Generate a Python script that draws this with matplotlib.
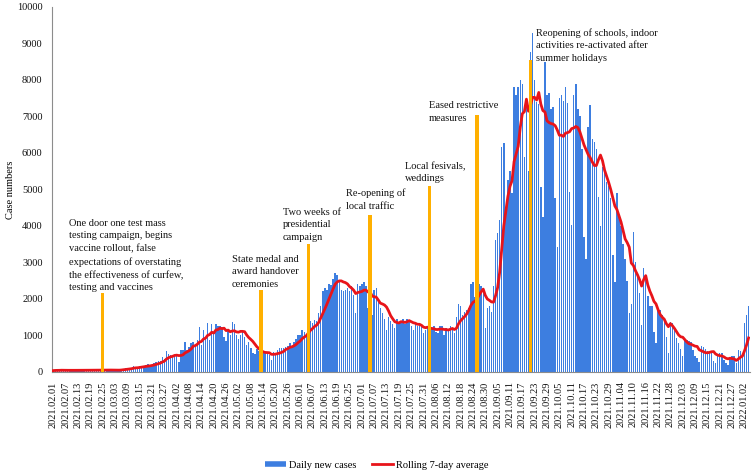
import numpy as np
import pandas as pd
import matplotlib
matplotlib.use('Agg')
import matplotlib.pyplot as plt
from matplotlib.lines import Line2D

plt.rcParams['font.family'] = ['Liberation Serif', 'DejaVu Serif']
plt.rcParams['font.size'] = 7.5

# daily new cases
feb = [30, 40, 35, 45, 50, 30, 25, 40, 45, 50, 40, 35, 30, 25, 45, 50, 55, 40, 45, 30, 25,
       50, 55, 60, 45, 50, 35, 30]
mar = [40, 45, 50, 40, 55, 60, 80, 90, 100, 75, 110, 160, 120, 100, 150, 140, 160, 190, 200, 180, 170,
       240, 270, 300, 290, 410, 350, 575, 480, 450, 400]
apr = [460, 460, 270, 595, 595, 820, 600, 690, 780, 820, 690, 870, 1220, 740, 1150, 960, 1330, 870,
       1310, 1060, 1310, 1240, 1250, 1220, 960, 850, 1150, 1000, 1370, 1310]
may = [1000, 910, 1000, 1150, 940, 740, 820, 640, 520, 490, 620, 560, 480, 500, 530, 500, 450, 320,
       550, 520, 590, 640, 640, 640, 690, 700, 780, 690, 820, 900, 1000]
jun = [1000, 1140, 1100, 950, 1350, 1400, 1330, 1420, 1380, 1620, 1800, 2200, 2300, 2250, 2400, 2380,
       2550, 2700, 2650, 2500, 2250, 2200, 2250, 2300, 2200, 2350, 2100, 1600, 2400, 2350]
jul = [2400, 2450, 2350, 1750, 1650, 1550, 2250, 2300, 1900, 1750, 1600, 1450, 1150, 1500, 1400, 1300,
       1200, 1450, 1350, 1400, 1450, 1300, 1450, 1400, 1250, 1150, 1300, 1250, 1300, 1250, 1050]
aug = [1150, 1250, 1100, 1200, 1250, 1100, 1050, 1250, 1250, 1000, 1200, 1150, 1250, 1200, 1050, 1500,
       1850, 1800, 1550, 1650, 1700, 1750, 2400, 2450, 2050, 1950, 2400, 2350, 2250, 1200, 1750]
sep = [1800, 1650, 2350, 3600, 3800, 4150, 6150, 6280, 4430, 5250, 5500, 4900, 7810, 7600, 7800, 8000,
       7900, 5900, 7300, 5500, 8770, 9280, 8000, 7400, 7350, 5070, 4250, 8500, 7600, 7650]
oct_ = [7200, 7250, 4760, 3430, 7500, 7600, 7420, 7820, 7360, 4940, 4030, 7600, 7900, 7200, 7000, 6100,
        3700, 3100, 6700, 7300, 6380, 6300, 6100, 4800, 4000, 5600, 5500, 5200, 5100, 4750, 3200]
# november has 11.30 twice in the source
nov = [2470, 4900, 4300, 4000, 3500, 3100, 2500, 1600, 1850, 3840, 3000, 2700, 2170, 1280, 2830, 2620,
       2070, 1800, 1800, 1100, 785, 1740, 1700, 1550, 1400, 960, 510, 1370, 1330, 1170, 930]
dec = [780, 610, 430, 900, 880, 850, 820, 600, 420, 380, 260, 700, 680, 620, 570, 500, 500, 290, 230,
       480, 500, 520, 330, 230, 180, 350, 420, 420, 230, 600, 560]
jan = [420, 1330, 1550, 1790]

daily = feb + mar + apr + may + jun + jul + aug + sep + oct_ + nov + dec + jan

dates = pd.date_range('2021-02-01', '2022-01-04').strftime('%Y.%m.%d').tolist()
dates.insert(dates.index('2021.11.30') + 1, '2021.11.30')

event_dates = ['2021.02.25', '2021.05.13', '2021.06.05', '2021.07.05', '2021.08.03', '2021.08.26', '2021.09.21']
event_heights = [2150, 2230, 3500, 4300, 5100, 7050, 8540]
event_texts = [
    'One door one test mass\ntesting campaign, begins\nvaccine rollout, false\nexpectations of overstating\nthe effectiveness of curfew,\ntesting and vaccines',
    'State medal and\naward handover\nceremonies',
    'Two weeks of\npresidential\ncampaign',
    'Re-opening of\nlocal traffic',
    'Local fesivals,\nweddings',
    'Eased restrictive\nmeasures',
    'Reopening of schools, indoor\nactivities re-activated after\nsummer holidays',
]
# lower-left corner of each note (category index, case number)
text_anchor = [(7.8, 2175), (86.9, 2270), (111.7, 3565), (142.4, 4414), (171.2, 5162), (182.4, 6833), (234.7, 8478)]

avg = pd.Series(daily).rolling(7, min_periods=1).mean()

blue = '#3d7ee0'
red = '#e8141a'
orange = '#ffb000'

fig = plt.figure(figsize=(7.54, 4.73), dpi=100)
ax = fig.add_axes([52.3/754, 1-371.7/473, (749.6-52.3)/754, (371.7-7)/473])
x = np.arange(len(daily))
ax.bar(x, daily, width=0.7, color=blue, zorder=2)
ax.plot(x, avg, color=red, lw=2.0, zorder=3)
ev_x = [dates.index(d) for d in event_dates]
ax.bar(ev_x, event_heights, width=1.7, color=orange, zorder=4)
for t, (tx, ty) in zip(event_texts, text_anchor):
    ax.text(tx, ty, t, ha='left', va='bottom', linespacing=1.5, color='#111111', zorder=5)

ax.set_xlim(-0.5, len(daily) - 0.5)
ax.set_ylim(0, 10000)
ax.set_yticks(range(0, 10001, 1000))
ax.set_xticks(x[::6])
ax.set_xticklabels(dates[::6], rotation=90)
ax.tick_params(length=0, colors='#111111')
ax.tick_params(axis='y', pad=7)
ax.tick_params(axis='x', pad=7)
for s in ['top', 'right']:
    ax.spines[s].set_visible(False)
for s in ['left', 'bottom']:
    ax.spines[s].set_color('#8c8c8c')
    ax.spines[s].set_linewidth(0.8)
ax.set_ylabel('Case numbers')
ax.yaxis.set_label_coords(-0.0535, 0.5)

handles = [Line2D([], [], color=blue, lw=4, solid_capstyle='butt'),
           Line2D([], [], color=red, lw=2)]
fig.legend(handles, ['Daily new cases', 'Rolling 7-day average'], loc='center',
           bbox_to_anchor=(377/754, 1-465/473), ncol=2, frameon=False,
           handlelength=2.0, handletextpad=0.3, columnspacing=1.5)

fig.savefig('out.png', dpi=100)
